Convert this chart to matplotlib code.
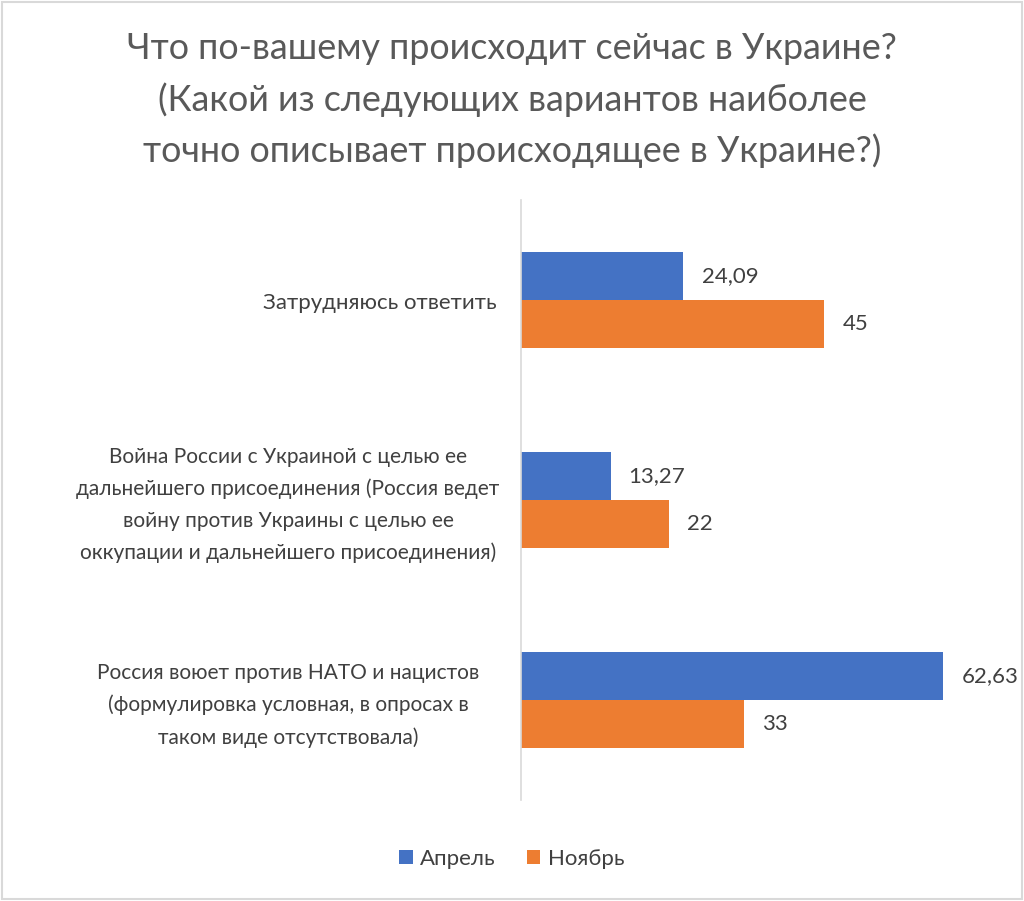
import matplotlib.pyplot as plt
from matplotlib.patches import Rectangle
import matplotlib.transforms as mtransforms

categories = [
    "Затрудняюсь ответить",
    "Война России с Украиной с целью ее\nдальнейшего присоединения (Россия ведет\nвойну против Украины с целью ее\nоккупации и дальнейшего присоединения)",
    "Россия воюет против НАТО и нацистов\n(формулировка условная, в опросах в\nтаком виде отсутствовала)",
]
april = [24.09, 13.27, 62.63]
november = [45, 22, 33]
april_labels = ["24,09", "13,27", "62,63"]
november_labels = ["45", "22", "33"]
series_names = ["Апрель", "Ноябрь"]

title = ("Что по-вашему происходит сейчас в Украине?\n"
         "(Какой из следующих вариантов наиболее\n"
         "точно описывает происходящее в Украине?)")

plt.rcParams['font.family'] = ['Lato', 'DejaVu Sans']

fig = plt.figure(figsize=(10.24, 9.01), dpi=100)
ax = fig.add_axes([0.5088, 0.112, 0.461, 0.666])

blue = "#4472C4"
orange = "#ED7D31"
txt = "#404040"
h = 0.24
pos = list(range(len(categories)))

b1 = ax.barh([p - h / 2 for p in pos], april, height=h, color=blue, label=series_names[0])
b2 = ax.barh([p + h / 2 for p in pos], november, height=h, color=orange, label=series_names[1])
ax.bar_label(b1, labels=april_labels, padding=13, fontsize=16, color=txt)
ax.bar_label(b2, labels=november_labels, padding=13, fontsize=16, color=txt)

ax.set_xlim(0, 70)
ax.set_ylim(2.5, -0.5)
ax.set_xticks([])
ax.set_yticks([])
for s in ["top", "right", "bottom"]:
    ax.spines[s].set_visible(False)
ax.spines["left"].set_color("#D9D9D9")
ax.spines["left"].set_linewidth(1.2)

# category labels: single line right aligned, wrapped ones centred in label area
trans = mtransforms.blended_transform_factory(fig.transFigure, ax.transData)
for p, lab in zip(pos, categories):
    if "\n" in lab:
        ax.text(288 / 1024, p + 0.025, lab, transform=trans, ha="center", va="center",
                multialignment="center", fontsize=15, color=txt, linespacing=1.72)
    else:
        ax.text(497 / 1024, p + 0.015, lab, transform=trans, ha="right", va="center",
                fontsize=16, color=txt)

fig.text(0.5, 0.889, title, ha="center", va="center", fontsize=25.8, color="#595959",
         linespacing=1.6)

fig.legend(handles=[b1, b2], loc="center", bbox_to_anchor=(0.5, 0.047), ncol=2,
           frameon=False, fontsize=16, labelcolor=txt, handlelength=0.6,
           handleheight=0.6, handletextpad=0.35, columnspacing=1.4)

fig.patches.append(Rectangle((0.002, 0.002), 0.996, 0.996, transform=fig.transFigure,
                             fill=False, edgecolor="#D9D9D9", linewidth=1.5))

fig.savefig("out.png", dpi=100)
